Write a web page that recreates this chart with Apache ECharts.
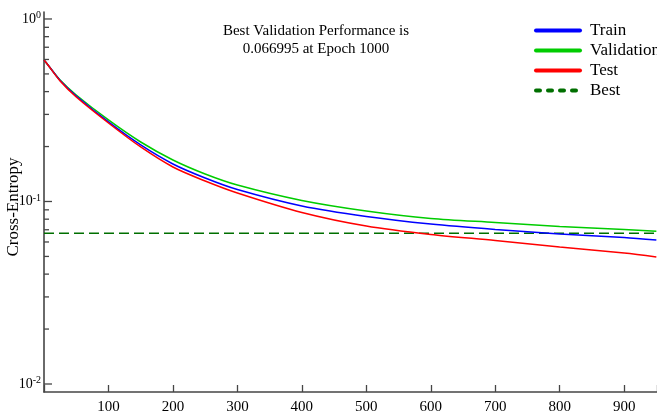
<!DOCTYPE html>
<html>
<head>
<meta charset="utf-8">
<script src="https://cdn.jsdelivr.net/npm/echarts@6/dist/echarts.min.js"></script>
<style>
html, body { margin: 0; padding: 0; background: #fff; }
#chart { width: 657px; height: 417px; }
</style>
</head>
<body>
<div id="chart"></div>
<script>
// epochs and cross-entropy values
var epochs = [0, 5, 25, 50, 100, 150, 200, 250, 300, 400, 500, 600, 700, 800, 900, 950];
var train = [0.596, 0.567, 0.4603, 0.3786, 0.2727, 0.2040, 0.1605, 0.1345, 0.1163, 0.0945, 0.0828, 0.0753, 0.0703, 0.0664, 0.0635, 0.0615];
var validation = [0.596, 0.567, 0.463, 0.3834, 0.2797, 0.2118, 0.1688, 0.1415, 0.1231, 0.1013, 0.0887, 0.0807, 0.0767, 0.0729, 0.0703, 0.0687];
var test = [0.596, 0.567, 0.4574, 0.3738, 0.2692, 0.1989, 0.1545, 0.1295, 0.1113, 0.0871, 0.0734, 0.0660, 0.0611, 0.0563, 0.0522, 0.0497];
var bestValue = 0.066995;
var bestEpochs = [0, 951];

// y axis ticks (log scale)
var majorTicks = [0.01, 0.1, 1];
var minorTicks = [0.02, 0.03, 0.04, 0.05, 0.06, 0.07, 0.08, 0.09, 0.2, 0.3, 0.4, 0.5, 0.6, 0.7, 0.8, 0.9];

var FONT = "'Liberation Serif', 'Times New Roman', serif";
var AXIS = '#454545';

function pairs(xs, ys) {
    return xs.map(function (x, i) { return [x, ys[i]]; });
}

function tickSeries(values, len) {
    return {
        type: 'custom',
        silent: true,
        data: values.map(function (v) { return [0, v]; }),
        encode: { x: 0, y: 1 },
        renderItem: function (params, api) {
            var p = api.coord([api.value(0), api.value(1)]);
            return {
                type: 'line',
                shape: { x1: p[0], y1: p[1], x2: p[0] + len, y2: p[1] },
                style: { stroke: AXIS, lineWidth: 1.3 }
            };
        },
        z: 5
    };
}

var chart = echarts.init(document.getElementById('chart'));
chart.setOption({
    animation: false,
    title: {
        text: 'Best Validation Performance is\n0.066995 at Epoch 1000',
        left: 311,
        top: 17,
        textAlign: 'center',
        textStyle: { fontFamily: FONT, fontSize: 15, fontWeight: 'normal', color: '#000', lineHeight: 18 }
    },
    legend: {
        orient: 'vertical',
        left: 529,
        top: 17,
        padding: 5,
        itemWidth: 44,
        itemHeight: 14,
        itemGap: 3,
        itemStyle: { opacity: 0 },
        textStyle: { fontFamily: FONT, fontSize: 17, color: '#000', padding: [0, 0, 0, 5] },
        lineStyle: { width: 4, cap: 'round' },
        data: [
            { name: 'Train' },
            { name: 'Validation' },
            { name: 'Test' },
            { name: 'Best', lineStyle: { width: 4, type: [4, 8], cap: 'round' } }
        ]
    },
    grid: { left: 44, top: 12, right: 0, bottom: 25, outerBoundsMode: 'none', containLabel: false },
    xAxis: {
        type: 'value',
        min: 0,
        max: 951,
        interval: 100,
        axisLine: { lineStyle: { color: AXIS, width: 1.6 } },
        axisTick: { inside: true, length: 7, lineStyle: { color: AXIS, width: 1.3 } },
        axisLabel: {
            margin: 8,
            color: '#000',
            fontFamily: FONT,
            fontSize: 15,
            formatter: function (v) { return (v > 0 && v % 100 === 0) ? String(v) : ''; }
        },
        splitLine: { show: false }
    },
    yAxis: {
        type: 'log',
        logBase: 10,
        min: 0.00904,
        max: 1.092,
        name: 'Cross-Entropy',
        nameLocation: 'middle',
        nameGap: 22,
        nameMoveOverlap: false,
        nameTextStyle: { fontFamily: FONT, fontSize: 17, color: '#000', padding: [0, 10, 0, 0] },
        axisLine: { lineStyle: { color: AXIS, width: 1.6 } },
        axisTick: { show: false },
        splitLine: { show: false },
        axisLabel: {
            margin: 3,
            color: '#000',
            formatter: function (v) {
                var l = Math.log(v) / Math.LN10;
                var e = Math.round(l);
                if (Math.abs(l - e) > 1e-6) return '';
                return '{b|10}{s|' + e + '}';
            },
            rich: {
                b: { fontFamily: FONT, fontSize: 14, color: '#000', lineHeight: 17 },
                s: { fontFamily: FONT, fontSize: 10, color: '#000', verticalAlign: 'top', lineHeight: 10 }
            }
        }
    },
    series: [
        {
            name: 'Train', type: 'line', data: pairs(epochs, train),
            symbol: 'none', smooth: 0.3,
            color: '#0000ff', lineStyle: { width: 1.5 }, z: 3
        },
        {
            name: 'Validation', type: 'line', data: pairs(epochs, validation),
            symbol: 'none', smooth: 0.3,
            color: '#00cc00', lineStyle: { width: 1.5 }, z: 2
        },
        {
            name: 'Test', type: 'line', data: pairs(epochs, test),
            symbol: 'none', smooth: 0.3,
            color: '#ff0000', lineStyle: { width: 1.5 }, z: 4
        },
        {
            name: 'Best', type: 'line',
            data: bestEpochs.map(function (x) { return [x, bestValue]; }),
            symbol: 'none', color: '#006f00',
            lineStyle: { width: 1.3, type: [10, 5] }, z: 1
        },
        tickSeries(majorTicks, 8),
        tickSeries(minorTicks, 5)
    ]
});
</script>
</body>
</html>
